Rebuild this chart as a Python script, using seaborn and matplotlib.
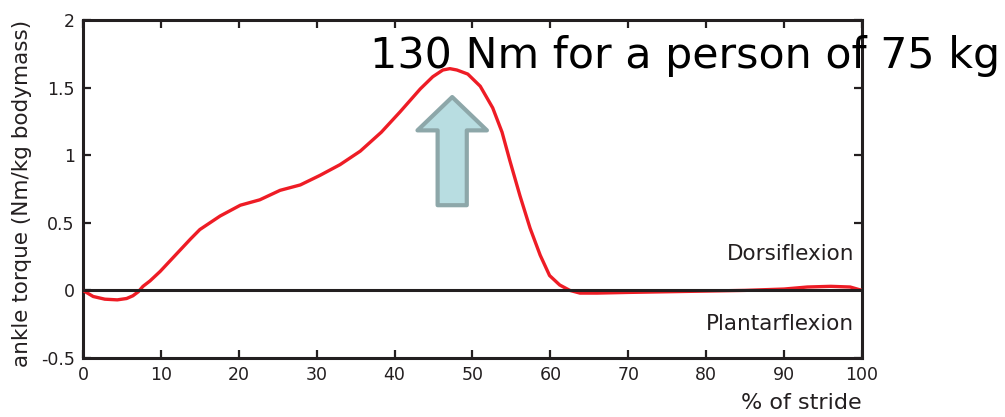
import numpy as np
import pandas as pd
import matplotlib
matplotlib.use("Agg")
import matplotlib.pyplot as plt
import seaborn as sns

# ankle torque over the stride
stride = [0, 1.3, 2.8, 4.4, 5.6, 6.4, 7.1, 7.7, 8.6, 9.9, 11.2, 12.5, 13.8,
          15, 16.3, 17.6, 18.9, 20.2, 22.7, 25.3, 27.9, 30.4, 33, 35.6, 38.3,
          40.7, 43.3, 44.9, 46.2, 47.1, 48, 49.4, 51, 52.6, 53.8, 54.8, 56.1,
          57.4, 58.7, 59.9, 61.2, 62.5, 63.8, 66, 70, 75, 80, 85, 90, 93, 96,
          98.5, 100]
torque = [0, -0.045, -0.065, -0.07, -0.06, -0.04, -0.01, 0.03, 0.07, 0.14,
          0.22, 0.30, 0.38, 0.45, 0.50, 0.55, 0.59, 0.63, 0.67, 0.74, 0.78,
          0.85, 0.93, 1.03, 1.17, 1.32, 1.49, 1.58, 1.63, 1.64, 1.63, 1.60,
          1.51, 1.35, 1.17, 0.96, 0.70, 0.46, 0.26, 0.11, 0.04, 0, -0.02,
          -0.02, -0.015, -0.01, -0.005, 0, 0.01, 0.025, 0.03, 0.025, 0]
xticks = list(range(0, 101, 10))
yticks = [-0.5, 0, 0.5, 1, 1.5, 2]
ytick_labels = ["-0.5", "0", "0.5", "1", "1.5", "2"]
peak_note = "130 Nm for a person of 75 kg"
arrow_x = 47.4
arrow_from, arrow_to = 0.63, 1.43

df = pd.DataFrame({"stride": stride, "torque": torque})

sns.set_theme(style="ticks")
plt.rcParams["font.family"] = ["DejaVu Sans"]

fig = plt.figure(figsize=(10.05, 4.17), dpi=100)
ax = fig.add_axes([0.0826, 0.1415, 0.775, 0.8106])

sns.lineplot(data=df, x="stride", y="torque", ax=ax, color="#ee1c25",
             linewidth=2.4, zorder=3)
ax.axhline(0, color="#231f20", linewidth=2.2, zorder=4)

ax.set_xlim(0, 100)
ax.set_ylim(-0.5, 2)
ax.set_xticks(xticks)
ax.set_yticks(yticks)
ax.set_yticklabels(ytick_labels)
ax.tick_params(direction="in", length=6, width=1.6, color="#231f20",
               top=True, right=True, labelsize=12.5, labelcolor="#231f20", pad=6)
for s in ax.spines.values():
    s.set_linewidth(2.2)
    s.set_color("#231f20")
    s.set_visible(True)

ax.set_xlabel("")
ax.set_ylabel("")
fig.text(0.022, 0.535, "ankle torque (Nm/kg bodymass)", rotation=90,
         ha="center", va="center", fontsize=15.5, color="#231f20")
fig.text(0.857, 0.018, "% of stride", ha="right", va="baseline",
         fontsize=16, color="#231f20")
ax.text(99, 0.27, "Dorsiflexion", ha="right", va="center", fontsize=15.5,
        color="#231f20")
ax.text(99, -0.25, "Plantarflexion", ha="right", va="center", fontsize=15.5,
        color="#231f20")

fig.text(0.368, 0.837, peak_note, ha="left", va="baseline", fontsize=30.8,
         color="black", zorder=10)

ax.annotate("", xy=(arrow_x, arrow_to), xytext=(arrow_x, arrow_from),
            xycoords="data",
            arrowprops=dict(arrowstyle="simple,head_length=1.2,head_width=2.5,tail_width=1.05",
                            mutation_scale=20, facecolor="#b8dde1",
                            edgecolor="#8da7a9", linewidth=3,
                            shrinkA=0, shrinkB=0), zorder=5)

fig.savefig("out.png", dpi=100, facecolor="white")
